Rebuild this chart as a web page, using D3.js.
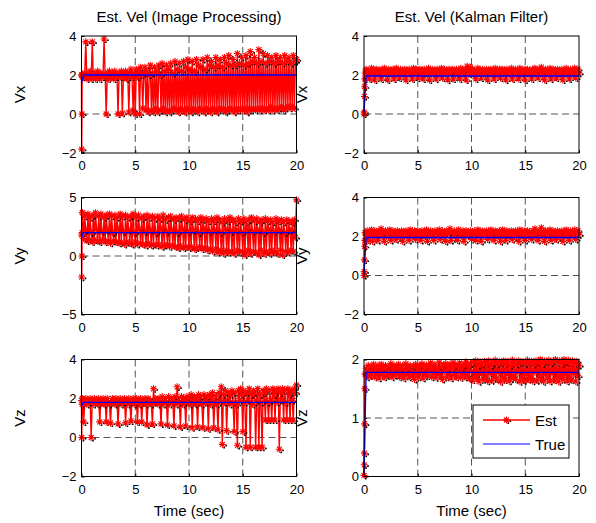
<!DOCTYPE html>
<html>
<head>
<meta charset="utf-8">
<script src="https://cdn.jsdelivr.net/npm/d3@7"></script>
<style>
  body { margin: 0; background: #fff; }
  text { font-family: "Liberation Sans", Arial, sans-serif; fill: #000; }
</style>
</head>
<body>
<script>
// sample times: a few fast samples at start-up, then every 0.1 s up to 20 s
const tHead = [0, 0.02, 0.04, 0.06, 0.08];
const dt = 0.1;

const titles = ["Est. Vel (Image Processing)", "Est. Vel (Kalman Filter)"];
const yLabels = ["Vx", "Vy", "Vz"];
const xTicks = [0, 5, 10, 15, 20];

// image processing estimates
const ipVxHead = [2.0, -1.8, 0.0, 2.0, 1.9];
const ipVx = [
  2.0, 1.9, 2.1, 3.7, 1.8, 2.0, 1.9, 2.2, 1.8, 3.7,
  1.9, 2.1, 1.8, 2.0, 2.2, 1.9, 1.8, 2.1, 2.0, 1.9,
  3.85, 2.0, 0.0, 2.1, 1.8, 2.2, 1.9, 2.0, 2.1, 1.8,
  2.2, 1.9, 2.0, 0.0, 2.1, 1.9, 2.2, 0.05, 2.0, 1.9,
  2.2, 1.8, 2.1, 0.1, 2.0, 2.3, 1.9, 0.2, 2.1, 0.0,
  2.3, 1.9, 2.2, 0.0, 2.4, 2.0, 0.3, 2.1, 2.4, 0.2,
  2.2, 0.1, 2.0, 2.5, 0.2, 2.1, 0.1, 2.4, 0.3, 2.2,
  0.1, 2.5, 2.0, 0.2, 2.6, 0.3, 2.2, 0.1, 2.5, 0.2,
  2.3, 0.1, 2.6, 0.2, 2.1, 0.3, 2.7, 0.2, 2.3, 0.1,
  2.6, 0.3, 2.2, 0.2, 2.7, 0.1, 2.4, 0.3, 2.8, 0.2,
  2.3, 0.1, 2.7, 0.3, 2.2, 0.2, 2.8, 0.1, 2.5, 0.3,
  2.4, 0.2, 2.8, 0.1, 2.3, 0.3, 2.9, 0.2, 2.5, 0.1,
  2.7, 0.3, 2.4, 0.2, 2.9, 0.1, 2.5, 0.3, 2.8, 0.2,
  2.4, 0.3, 2.9, 0.1, 2.6, 0.2, 3.0, 0.3, 2.5, 0.2,
  2.8, 0.1, 2.5, 0.3, 3.1, 0.2, 2.6, 0.3, 2.9, 0.2,
  2.5, 0.3, 3.0, 0.1, 2.6, 0.3, 3.2, 0.2, 2.7, 0.3,
  2.9, 0.2, 2.6, 0.3, 3.3, 0.2, 2.7, 0.3, 3.1, 0.2,
  2.6, 0.3, 3.0, 0.2, 2.7, 0.4, 2.9, 0.2, 2.6, 0.3,
  3.0, 0.2, 2.7, 0.3, 2.9, 0.4, 2.6, 0.2, 3.0, 0.3,
  2.7, 0.4, 2.9, 0.3, 2.6, 0.4, 3.0, 0.3, 2.7, 2.8
];
const ipVyHead = [1.8, -1.8, 0.0, 2.0, 3.7];
const ipVy = [
  3.7, 1.5, 3.4, 2.2, 1.3, 3.6, 1.4, 3.3, 2.0, 1.2,
  3.5, 1.4, 3.7, 2.3, 1.3, 3.4, 1.2, 3.6, 2.1, 1.4,
  3.3, 1.2, 3.5, 2.2, 1.3, 3.6, 1.1, 3.4, 2.0, 1.3,
  3.5, 1.2, 3.3, 2.3, 1.1, 3.6, 1.2, 3.4, 2.1, 1.0,
  3.5, 1.2, 3.3, 2.2, 1.1, 3.4, 1.0, 3.6, 2.0, 1.2,
  3.3, 1.0, 3.5, 2.3, 1.1, 3.2, 1.0, 3.4, 2.1, 0.9,
  3.5, 1.1, 3.3, 2.2, 0.9, 3.4, 1.0, 3.2, 2.0, 0.9,
  3.4, 1.0, 3.2, 2.3, 0.8, 3.5, 0.9, 3.1, 2.1, 1.0,
  3.3, 0.8, 3.4, 2.2, 0.9, 3.1, 0.8, 3.3, 2.0, 0.7,
  3.2, 0.9, 3.4, 2.3, 0.7, 3.1, 0.8, 3.3, 2.1, 0.7,
  3.0, 0.8, 3.3, 2.2, 0.6, 3.2, 0.7, 3.0, 2.0, 0.8,
  3.3, 0.6, 3.1, 2.3, 0.7, 3.2, 0.5, 3.0, 2.1, 0.6,
  3.2, 0.4, 3.0, 2.2, 0.6, 3.3, 0.3, 3.1, 2.0, 0.5,
  2.9, 0.2, 3.2, 2.3, 0.5, 3.0, 0.3, 3.3, 2.1, 0.4,
  3.1, 0.2, 2.9, 2.2, 0.5, 3.2, 0.3, 3.0, 2.0, 0.4,
  3.2, 0.1, 2.9, 2.3, 0.5, 3.1, 0.2, 3.3, 2.1, 0.4,
  3.0, 0.3, 3.2, 2.2, 0.1, 2.9, 0.5, 3.1, 2.0, 0.2,
  3.2, 0.4, 3.0, 2.3, 0.2, 3.1, 0.5, 2.9, 2.1, 0.3,
  3.2, 0.2, 3.0, 2.2, 0.5, 3.1, 0.1, 2.9, 2.0, 0.4,
  3.1, 0.3, 3.0, 2.2, 0.5, 2.9, 0.4, 3.1, 1.6, 4.8
];
const ipVzHead = [1.9, 0.0, 1.9, 1.7, 2.0];
const ipVz = [
  1.9, 0.8, 1.8, 2.0, 1.7, 1.9, 1.8, 2.0, 0.0, 1.9,
  1.7, 2.0, 1.8, 1.9, 1.7, 2.0, 0.8, 1.9, 1.8, 2.0,
  1.7, 1.9, 0.8, 2.0, 1.8, 1.7, 0.75, 1.9, 2.0, 1.8,
  1.7, 2.0, 1.9, 0.7, 1.8, 2.0, 1.7, 1.9, 1.8, 2.0,
  0.75, 1.9, 1.7, 2.0, 1.8, 0.85, 1.9, 2.0, 1.7, 1.8,
  2.0, 0.8, 1.9, 1.7, 2.0, 0.8, 1.8, 1.9, 2.0, 1.7,
  0.65, 2.0, 1.8, 1.9, 1.7, 0.7, 2.5, 1.8, 2.0, 1.9,
  1.7, 2.0, 1.8, 0.7, 2.1, 1.7, 1.9, 2.0, 1.8, 0.65,
  2.1, 1.7, 1.9, 2.0, 1.8, 0.6, 2.1, 1.7, 2.6, 1.9,
  1.8, 0.55, 2.1, 1.7, 2.0, 1.9, 0.6, 2.1, 1.8, 2.0,
  1.7, 2.2, 0.5, 1.9, 2.1, 1.7, 2.0, 0.55, 2.2, 1.8,
  2.1, 1.7, 0.5, 2.2, 1.9, 1.8, 2.1, 0.45, 2.2, 1.7,
  2.0, 2.3, 0.5, 1.8, 2.1, 1.7, 0.4, 2.3, 1.9, 2.6,
  -0.35, 2.2, 1.8, 2.4, 0.35, 1.9, 2.3, 1.7, 2.2, 2.4,
  1.8, 0.3, 2.3, 1.7, -0.4, 2.4, 1.9, 2.5, 2.2, 0.3,
  2.4, 1.8, -0.5, 2.3, 1.9, 2.5, -0.5, 2.2, 1.7, 2.4,
  2.3, -0.5, 1.9, 2.5, -0.5, 2.2, 1.8, -0.5, 2.4, 2.3,
  0.9, 2.5, 1.8, 0.9, 2.4, 1.9, 0.9, 2.5, 2.2, 0.9,
  2.4, 1.8, 2.5, -0.6, 2.3, 1.9, 2.5, 0.9, 2.4, 1.8,
  0.9, 2.5, 2.2, 0.9, 2.4, 1.9, 0.9, 2.5, 2.3, 2.7
];

// kalman filter estimates
const kfVxHead = [0.0, 0.1, 0.9, 1.4, 1.8];
const kfVx = [
  2.1, 2.3, 2.0, 2.25, 1.8, 2.2, 2.35, 2.05, 2.3, 1.75,
  2.2, 2.3, 2.0, 2.25, 2.1, 1.8, 2.3, 2.15, 2.35, 2.0,
  2.2, 1.75, 2.3, 2.1, 2.25, 2.0, 2.3, 1.8, 2.2, 2.35,
  2.05, 2.25, 1.85, 2.3, 2.1, 2.2, 2.0, 2.3, 1.75, 2.25,
  2.15, 2.3, 2.0, 2.2, 1.8, 2.35, 2.1, 2.25, 2.3, 1.85,
  2.2, 2.3, 2.0, 2.25, 1.8, 2.3, 2.1, 2.2, 2.0, 2.35,
  1.75, 2.25, 2.1, 2.3, 2.0, 2.2, 1.8, 2.3, 2.15, 2.25,
  2.0, 2.35, 1.85, 2.2, 2.3, 2.05, 2.25, 1.75, 2.3, 2.1,
  2.2, 2.3, 1.8, 2.25, 2.1, 2.3, 2.0, 2.2, 1.8, 2.35,
  2.1, 2.25, 2.0, 2.3, 1.75, 2.45, 2.3, 2.05, 2.4, 2.1,
  2.3, 2.0, 2.25, 1.8, 2.2, 2.35, 2.1, 2.25, 1.85, 2.3,
  2.1, 2.2, 2.0, 2.3, 1.75, 2.25, 2.15, 2.3, 2.0, 2.2,
  1.8, 2.35, 2.1, 2.25, 2.0, 2.3, 1.85, 2.2, 2.3, 2.05,
  2.25, 1.75, 2.3, 2.1, 2.2, 2.0, 2.35, 1.8, 2.25, 2.1,
  2.3, 2.0, 2.2, 1.8, 2.35, 2.1, 2.25, 2.0, 2.3, 1.75,
  2.2, 2.3, 2.05, 2.25, 2.1, 1.8, 2.3, 2.2, 2.35, 2.0,
  2.25, 1.85, 2.3, 2.1, 2.4, 2.0, 2.2, 1.75, 2.3, 2.15,
  2.25, 2.0, 2.35, 1.8, 2.2, 2.3, 2.05, 2.25, 1.85, 2.3,
  2.1, 2.2, 2.0, 2.3, 1.75, 2.25, 2.1, 2.35, 2.0, 2.2,
  1.8, 2.3, 2.15, 2.25, 2.0, 2.35, 1.85, 2.2, 2.3, 2.1
];
const kfVyHead = [0.0, 0.2, 0.8, 1.5, 1.8];
const kfVy = [
  2.2, 2.05, 2.3, 1.8, 2.25, 2.1, 2.35, 1.75, 2.2, 2.3,
  2.0, 2.25, 1.8, 2.3, 2.15, 2.4, 2.0, 2.2, 1.75, 2.3,
  2.1, 2.25, 2.0, 2.35, 1.8, 2.2, 2.3, 2.05, 2.25, 1.85,
  2.3, 2.1, 2.2, 2.0, 2.3, 1.75, 2.25, 2.15, 2.3, 2.0,
  2.2, 1.8, 2.35, 2.1, 2.25, 2.0, 2.3, 1.85, 2.2, 2.3,
  2.05, 2.25, 1.8, 2.3, 2.1, 2.2, 2.0, 2.35, 1.75, 2.25,
  2.1, 2.3, 2.0, 2.2, 1.8, 2.3, 2.15, 2.25, 2.0, 2.35,
  1.85, 2.2, 2.3, 2.05, 2.25, 1.75, 2.3, 2.1, 2.2, 2.4,
  1.8, 2.25, 2.1, 2.3, 2.0, 2.2, 1.8, 2.35, 2.1, 2.25,
  2.0, 2.3, 1.75, 2.2, 2.3, 2.05, 2.25, 2.1, 2.3, 1.85,
  2.25, 2.1, 2.3, 1.8, 2.2, 2.35, 2.0, 2.25, 1.75, 2.3,
  2.15, 2.2, 2.0, 2.3, 1.85, 2.25, 2.1, 2.35, 2.0, 2.2,
  1.8, 2.3, 2.1, 2.25, 2.0, 2.3, 1.75, 2.2, 2.35, 2.05,
  2.25, 1.8, 2.3, 2.1, 2.2, 2.0, 2.3, 1.85, 2.25, 2.15,
  2.3, 2.0, 2.2, 1.75, 2.35, 2.1, 2.25, 2.0, 2.3, 1.8,
  2.2, 2.3, 2.05, 2.25, 2.1, 1.85, 2.3, 2.2, 2.4, 2.0,
  2.25, 1.8, 2.3, 2.1, 2.45, 2.0, 2.2, 1.75, 2.3, 2.15,
  2.25, 2.0, 2.35, 1.8, 2.2, 2.3, 2.05, 2.25, 1.85, 2.3,
  2.1, 2.2, 2.0, 2.3, 1.75, 2.25, 2.1, 2.35, 2.0, 2.2,
  1.8, 2.3, 2.15, 2.25, 2.0, 2.35, 1.85, 2.2, 2.3, 2.1
];
const kfVzHead = [0.02, 0.2, 0.4, 0.9, 1.5];
const kfVz = [
  1.75, 1.85, 1.7, 1.9, 1.8, 1.72, 1.88, 1.78, 1.92, 1.7,
  1.85, 1.75, 1.9, 1.68, 1.82, 1.92, 1.74, 1.86, 1.7, 1.9,
  1.8, 1.72, 1.88, 1.76, 1.93, 1.7, 1.84, 1.9, 1.73, 1.87,
  1.78, 1.92, 1.7, 1.85, 1.75, 1.9, 1.68, 1.82, 1.93, 1.74,
  1.86, 1.7, 1.9, 1.8, 1.72, 1.88, 1.66, 1.92, 1.76, 1.85,
  1.7, 1.9, 1.78, 1.93, 1.68, 1.86, 1.75, 1.91, 1.72, 1.88,
  1.8, 1.94, 1.7, 1.87, 1.76, 1.92, 1.69, 1.85, 1.78, 1.95,
  1.72, 1.88, 1.66, 1.9, 1.8, 1.93, 1.7, 1.86, 1.75, 1.92,
  1.68, 1.85, 1.95, 1.74, 1.9, 1.7, 1.88, 1.78, 1.94, 1.69,
  1.87, 1.76, 1.92, 1.7, 1.96, 1.73, 1.89, 1.67, 1.93, 1.8,
  1.65, 1.95, 1.72, 1.98, 1.68, 1.9, 1.62, 1.96, 1.75, 1.92,
  1.66, 1.97, 1.7, 1.93, 1.63, 1.98, 1.76, 1.9, 1.64, 1.95,
  1.72, 1.99, 1.67, 1.92, 1.78, 1.96, 1.62, 1.94, 1.7, 1.98,
  1.65, 1.93, 1.74, 1.97, 1.63, 1.9, 1.68, 1.99, 1.72, 1.95,
  1.66, 1.92, 1.78, 1.98, 1.62, 1.95, 1.7, 1.96, 1.64, 1.93,
  1.75, 1.99, 1.66, 1.94, 1.7, 1.97, 1.63, 1.92, 1.78, 1.98,
  1.64, 1.95, 1.72, 2.0, 1.67, 1.93, 1.62, 1.98, 1.74, 1.96,
  1.68, 1.99, 1.63, 1.94, 1.76, 1.97, 1.65, 2.0, 1.7, 1.95,
  1.62, 1.98, 1.72, 1.93, 1.66, 2.0, 1.74, 1.96, 1.63, 1.99,
  1.7, 1.95, 1.65, 1.98, 1.76, 1.93, 1.62, 1.97, 1.72, 1.9
];

// true velocity, [time, value]
const ipVxTrue = [[0, 1.6], [0.2, 2.0], [20, 2.0]];
const ipVyTrue = [[0, 1.5], [0.15, 2.0], [20, 2.0]];
const ipVzTrue = [[0, 1.6], [0.15, 1.8], [20, 1.8]];
const kfVxTrue = [[0, 0.1], [0.2, 1.95], [20, 1.95]];
const kfVyTrue = [[0, 0.1], [0.2, 1.95], [20, 1.95]];
const kfVzTrue = [[0, 0.05], [0.2, 1.78], [20, 1.78]];

const yDomains = [[[-2, 4], [-2, 4]], [[-5, 5], [-2, 4]], [[-2, 4], [0, 2]]];
const yTicks = [
  [[-2, 0, 2, 4], [-2, 0, 2, 4]],
  [[-5, 0, 5], [-2, 0, 2, 4]],
  [[-2, 0, 2, 4], [0, 1, 2]]
];

function withTimes(head, body) {
  const pts = head.map((v, i) => [tHead[i], v]);
  body.forEach((v, i) => pts.push([+(dt * (i + 1)).toFixed(2), v]));
  return pts;
}

const est = [
  [withTimes(ipVxHead, ipVx), withTimes(kfVxHead, kfVx)],
  [withTimes(ipVyHead, ipVy), withTimes(kfVyHead, kfVy)],
  [withTimes(ipVzHead, ipVz), withTimes(kfVzHead, kfVz)]
];
const truth = [
  [ipVxTrue, kfVxTrue],
  [ipVyTrue, kfVyTrue],
  [ipVzTrue, kfVzTrue]
];

let width = 596, height = 523;
let colX = [81.5, 364], plotW = 215;
let rowY = [36, 197.5, 359.5], plotH = 117;
let fontSize = 15, tickFont = 13;

let svg = d3.select("body").append("svg")
  .attr("width", width)
  .attr("height", height);

svg.append("rect").attr("width", width).attr("height", height).attr("fill", "#fff");

let starPath = "M-3.5,0H3.5M0,-3.5V3.5M-2.5,-2.5L2.5,2.5M-2.5,2.5L2.5,-2.5";
// black specks sitting at the lower right of every star
let speckPath = "M1,2.5h1.6v1.6h-1.6zM3,0.5h1.6v1.6h-1.6z";

function drawPanel(r, c) {
  let x = d3.scaleLinear().domain([0, 20]).range([colX[c], colX[c] + plotW]);
  let y = d3.scaleLinear().domain(yDomains[r][c]).range([rowY[r] + plotH, rowY[r]]);
  let g = svg.append("g");

  g.append("rect")
    .attr("x", colX[c]).attr("y", rowY[r])
    .attr("width", plotW).attr("height", plotH)
    .attr("fill", "#fff");

  // dashed grid
  g.selectAll(".gx").data(xTicks.slice(1, -1)).enter().append("line")
    .attr("x1", (d) => x(d)).attr("x2", (d) => x(d))
    .attr("y1", rowY[r]).attr("y2", rowY[r] + plotH)
    .attr("stroke", "#555").attr("stroke-dasharray", "7,4");
  g.selectAll(".gy").data(yTicks[r][c].slice(1, -1)).enter().append("line")
    .attr("y1", (d) => y(d)).attr("y2", (d) => y(d))
    .attr("x1", colX[c]).attr("x2", colX[c] + plotW)
    .attr("stroke", "#555").attr("stroke-dasharray", "7,4");

  // axes
  let ax = g.append("g")
    .attr("transform", "translate(0," + (rowY[r] + plotH) + ")")
    .call(d3.axisBottom(x).tickValues(xTicks).tickFormat(d3.format("d"))
      .tickSize(-3).tickPadding(8));
  let ay = g.append("g")
    .attr("transform", "translate(" + colX[c] + ",0)")
    .call(d3.axisLeft(y).tickValues(yTicks[r][c]).tickFormat(d3.format("d"))
      .tickSize(-3).tickPadding(5));
  [ax, ay].forEach((a) => {
    a.select(".domain").remove();
    a.selectAll("text").attr("font-size", tickFont)
      .attr("font-family", "Liberation Sans, Arial, sans-serif");
    a.selectAll("line").attr("stroke", "#000");
  });

  // estimate: red line with star markers
  let pts = est[r][c];
  g.append("path")
    .datum(pts)
    .attr("fill", "none")
    .attr("stroke", "#ff0000")
    .attr("stroke-width", 1.4)
    .attr("d", d3.line().x((d) => x(d[0])).y((d) => y(d[1])));
  g.selectAll(".sh").data(pts).enter().append("path")
    .attr("d", speckPath)
    .attr("transform", (d) => "translate(" + x(d[0]) + "," + y(d[1]) + ")")
    .attr("fill", "#000");
  g.selectAll(".st").data(pts).enter().append("path")
    .attr("d", starPath)
    .attr("transform", (d) => "translate(" + x(d[0]) + "," + y(d[1]) + ")")
    .attr("stroke", "#ff0000").attr("stroke-width", 1.1);

  // true
  g.append("path")
    .datum(truth[r][c])
    .attr("fill", "none")
    .attr("stroke", "#0000ff")
    .attr("stroke-width", 1.3)
    .attr("d", d3.line().x((d) => x(d[0])).y((d) => y(d[1])));

  // frame
  g.append("rect")
    .attr("x", colX[c]).attr("y", rowY[r])
    .attr("width", plotW).attr("height", plotH)
    .attr("fill", "none").attr("stroke", "#000").attr("stroke-width", 1);

  if (r == 0) {
    g.append("text")
      .attr("x", colX[c] + plotW / 2).attr("y", rowY[r] - 14)
      .attr("text-anchor", "middle").attr("font-size", fontSize)
      .text(titles[c]);
  }
  if (r == 2) {
    g.append("text")
      .attr("x", colX[c] + plotW / 2).attr("y", rowY[r] + plotH + 39)
      .attr("text-anchor", "middle").attr("font-size", fontSize)
      .text("Time (sec)");
  }
  return g;
}

function yLabel(r, c) {
  let cx = c == 0 ? 25 : 307;
  let cy = rowY[r] + plotH / 2;
  svg.append("text")
    .attr("transform", "translate(" + cx + "," + cy + ") rotate(-90)")
    .attr("text-anchor", "middle")
    .attr("font-size", fontSize)
    .text(yLabels[r]);
}

// right column y labels first, so the left axes sit on top of them
for (let r = 0; r < 3; r++) yLabel(r, 1);
for (let r = 0; r < 3; r++) {
  drawPanel(r, 1);
  drawPanel(r, 0);
  yLabel(r, 0);
}

// legend in the bottom right panel
let lg = svg.append("g").attr("transform", "translate(473,405)");
lg.append("rect").attr("width", 96).attr("height", 53)
  .attr("fill", "#fff").attr("stroke", "#000");
lg.append("line").attr("x1", 10).attr("x2", 57).attr("y1", 15).attr("y2", 15)
  .attr("stroke", "#ff0000").attr("stroke-width", 1.4);
lg.append("path").attr("d", speckPath).attr("transform", "translate(33.5,15)")
  .attr("fill", "#000");
lg.append("path").attr("d", starPath).attr("transform", "translate(33.5,15)")
  .attr("stroke", "#ff0000").attr("stroke-width", 1.1);
lg.append("text").attr("x", 62).attr("y", 20.5).attr("font-size", fontSize).text("Est");
lg.append("line").attr("x1", 10).attr("x2", 57).attr("y1", 39).attr("y2", 39)
  .attr("stroke", "#0000ff").attr("stroke-width", 1.1);
lg.append("text").attr("x", 62).attr("y", 44.5).attr("font-size", fontSize).text("True");
</script>
</body>
</html>
